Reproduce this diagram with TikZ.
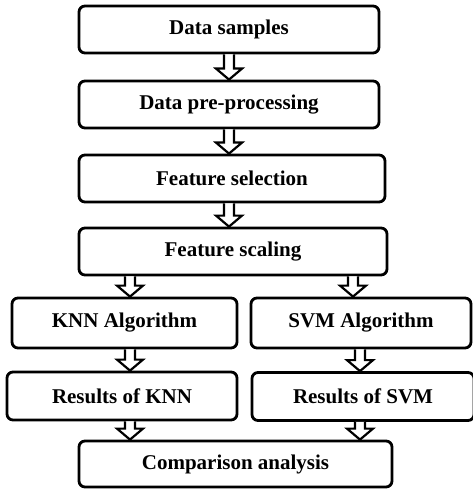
\documentclass[tikz,border=0pt]{standalone}
\usepackage{fontspec}
\setmainfont{Liberation Serif}
\usetikzlibrary{calc}

\tikzset{
  stage/.style={draw, line width=2.8pt, rounded corners=6pt, minimum height=47pt,
    inner sep=0pt, font=\bfseries\fontsize{21}{25}\selectfont},
  % hollow block arrow between two points
  blockarrow/.style={line width=2.2pt, fill=white, line join=miter, to path={
    ($(\tikztostart)+(-5pt,0)$) -- ($(\tikztotarget)+(-5pt,11pt)$)
    -- ($(\tikztotarget)+(-13pt,11pt)$) -- (\tikztotarget)
    -- ($(\tikztotarget)+(13pt,11pt)$) -- ($(\tikztotarget)+(5pt,11pt)$)
    -- ($(\tikztostart)+(5pt,0)$)}}
}

\begin{document}
\begin{tikzpicture}[x=1pt,y=1pt]
  \useasboundingbox (0,0) rectangle (472,-489);
  % main column
  \node[stage, minimum width=300pt] (ds) at (229,-29.5) {Data samples};
  \node[stage, minimum width=300pt] (pp) at (229,-104.5) {Data pre-processing};
  \node[stage, minimum width=306pt] (fsel) at (232,-178.5) {Feature selection};
  \node[stage, minimum width=308pt] (fsc) at (233,-251.5) {Feature scaling};
  % two branches
  \node[stage, minimum width=225pt, minimum height=50pt] (knn) at (124.5,-323) {KNN Algorithm};
  \node[stage, minimum width=220pt, minimum height=50pt] (svm) at (361,-323) {SVM Algorithm};
  \node[stage, minimum width=230pt, minimum height=48pt] (rknn) at (122,-396) {Results of KNN};
  \node[stage, minimum width=222pt, minimum height=48pt] (rsvm) at (363,-396.5) {Results of SVM};
  \node[stage, minimum width=313pt, minimum height=46pt] (cmp) at (235.5,-464) {Comparison analysis};

  \coordinate (lx) at (130,0);
  \coordinate (ra) at (353,0);
  \coordinate (rb) at (360,0);

  \draw[blockarrow] (ds.south) to (pp.north -| ds.south);
  \draw[blockarrow] (pp.south -| ds.south) to (fsel.north -| ds.south);
  \draw[blockarrow] (fsel.south -| ds.south) to (fsc.north -| ds.south);
  \draw[blockarrow] (fsc.south -| lx) to (knn.north -| lx);
  \draw[blockarrow] (fsc.south -| ra) to (svm.north -| ra);
  \draw[blockarrow] (knn.south -| lx) to (rknn.north -| lx);
  \draw[blockarrow] (svm.south -| rb) to (rsvm.north -| rb);
  \draw[blockarrow] (rknn.south -| lx) to (cmp.north -| lx);
  \draw[blockarrow] (rsvm.south -| rb) to (cmp.north -| rb);
\end{tikzpicture}
\end{document}
